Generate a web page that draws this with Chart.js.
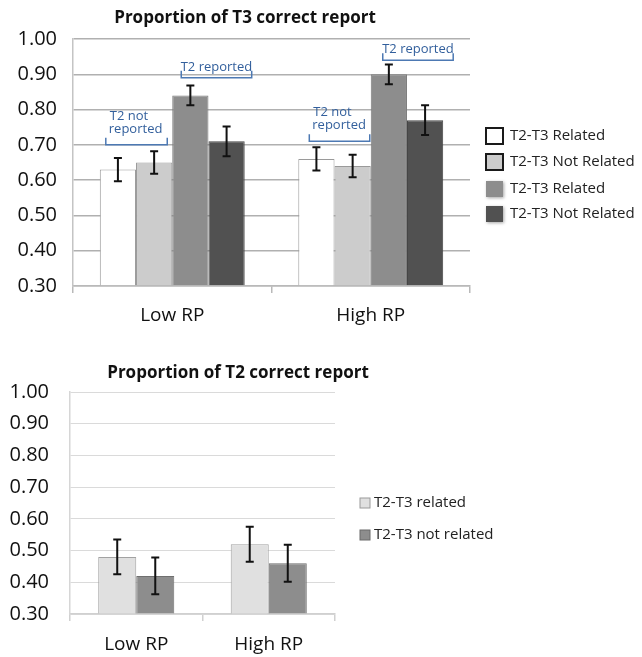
<!DOCTYPE html>
<html>
<head>
<meta charset="utf-8">
<script src="https://cdn.jsdelivr.net/npm/chart.js@4.4.0/dist/chart.umd.min.js"></script>
<style>
  body { margin: 0; background: #fff; }
  #wrap { position: relative; width: 642px; height: 657px; }
  canvas { position: absolute; left: 0; }
  #t3 { top: 0; }
  #t2 { top: 340px; }
</style>
</head>
<body>
<div id="wrap">
  <canvas id="t3" width="642" height="340" style="width:642px;height:340px"></canvas>
  <canvas id="t2" width="642" height="317" style="width:642px;height:317px"></canvas>
</div>
<script>
// data
var categories = ["Low RP", "High RP"];
var yTicks = [0.30, 0.40, 0.50, 0.60, 0.70, 0.80, 0.90, 1.00];

var t3Labels = ["T2-T3 Related", "T2-T3 Not Related", "T2-T3 Related", "T2-T3 Not Related"];
var t3NotRepRelated = [0.63, 0.66];
var t3NotRepRelatedErr = [0.033, 0.033];
var t3NotRepNotRelated = [0.65, 0.64];
var t3NotRepNotRelatedErr = [0.032, 0.032];
var t3RepRelated = [0.84, 0.90];
var t3RepRelatedErr = [0.028, 0.028];
var t3RepNotRelated = [0.71, 0.77];
var t3RepNotRelatedErr = [0.042, 0.042];

var t2Labels = ["T2-T3 related", "T2-T3 not related"];
var t2Related = [0.48, 0.52];
var t2RelatedErr = [0.055, 0.055];
var t2NotRelated = [0.42, 0.46];
var t2NotRelatedErr = [0.058, 0.058];

// bracket notes on the T3 chart: category, first bar, last bar, value of bracket line
var notes = [
  { cat: 0, from: 0, to: 1, y: 0.70, lines: ["T2 not", "reported"], dx0: 6, dx1: -5 },
  { cat: 0, from: 2, to: 3, y: 0.89, lines: ["T2 reported"], dx0: 9, dx1: 7 },
  { cat: 1, from: 0, to: 1, y: 0.71, lines: ["T2 not", "reported"], dx0: 11, dx1: -1 },
  { cat: 1, from: 2, to: 3, y: 0.94, lines: ["T2 reported"], dx0: 12, dx1: 10 }
];

Chart.defaults.font.family = "'Open Sans', 'DejaVu Sans', sans-serif";
Chart.defaults.color = "#111";

var errorBars = {
  id: "errorBars",
  afterDatasetsDraw: function (chart) {
    var ctx = chart.ctx, y = chart.scales.y;
    ctx.save();
    ctx.strokeStyle = "#111";
    ctx.lineWidth = 2;
    chart.data.datasets.forEach(function (ds, i) {
      chart.getDatasetMeta(i).data.forEach(function (bar, j) {
        var top = y.getPixelForValue(ds.data[j] + ds.errors[j]);
        var bot = y.getPixelForValue(ds.data[j] - ds.errors[j]);
        ctx.beginPath();
        ctx.moveTo(bar.x, top); ctx.lineTo(bar.x, bot);
        ctx.moveTo(bar.x - 4, top); ctx.lineTo(bar.x + 4, top);
        ctx.moveTo(bar.x - 4, bot); ctx.lineTo(bar.x + 4, bot);
        ctx.stroke();
      });
    });
    ctx.restore();
  }
};

var heading = {
  id: "heading",
  afterDraw: function (chart, args, opts) {
    var ctx = chart.ctx;
    ctx.save();
    ctx.font = "bold 17px 'Open Sans'";
    ctx.fillStyle = "#111";
    ctx.textAlign = "center";
    ctx.textBaseline = "middle";
    ctx.fillText(opts.text, opts.x, opts.y);
    ctx.restore();
  }
};

var sideLegend = {
  id: "sideLegend",
  afterDraw: function (chart, args, opts) {
    var ctx = chart.ctx;
    ctx.save();
    ctx.font = "15px 'Open Sans'";
    ctx.textBaseline = "middle";
    chart.data.datasets.forEach(function (ds, i) {
      var cy = opts.ys[i];
      var x = opts.x, w = opts.w, h = opts.h;
      var sw = opts.swatches[i];
      ctx.save();
      if (sw.shadow) {
        ctx.shadowColor = "rgba(0,0,0,0.35)";
        ctx.shadowBlur = 3;
        ctx.shadowOffsetX = 1;
        ctx.shadowOffsetY = 1;
      }
      ctx.fillStyle = ds.backgroundColor;
      ctx.fillRect(x, cy - h / 2, w, h);
      ctx.restore();
      if (sw.border) {
        ctx.strokeStyle = sw.border;
        ctx.lineWidth = sw.lw;
        ctx.strokeRect(x, cy - h / 2, w, h);
      }
      ctx.fillStyle = "#222";
      ctx.textAlign = "left";
      ctx.fillText(ds.label, opts.textX, cy);
    });
    ctx.restore();
  }
};

var brackets = {
  id: "brackets",
  afterDraw: function (chart) {
    var ctx = chart.ctx, y = chart.scales.y;
    ctx.save();
    notes.forEach(function (n) {
      var a = chart.getDatasetMeta(n.from).data[n.cat];
      var b = chart.getDatasetMeta(n.to).data[n.cat];
      var x0 = a.x - a.width / 2 + n.dx0;
      var x1 = b.x + b.width / 2 + n.dx1;
      var ly = y.getPixelForValue(n.y);
      ctx.strokeStyle = "#4d79b3";
      ctx.lineWidth = 1.5;
      ctx.beginPath();
      ctx.moveTo(x0, ly - 7);
      ctx.lineTo(x0, ly);
      ctx.lineTo(x1, ly);
      ctx.lineTo(x1, ly - 7);
      ctx.stroke();
      ctx.fillStyle = "#325f9c";
      ctx.font = "13px 'Open Sans'";
      ctx.textBaseline = "middle";
      if (n.lines.length === 1) {
        ctx.textAlign = "center";
        ctx.fillText(n.lines[0], (x0 + x1) / 2, ly - 11);
      } else {
        ctx.textAlign = "left";
        ctx.fillText(n.lines[0], x0 + 4, ly - 29);
        ctx.fillText(n.lines[1], x0 + 3, ly - 16);
      }
    });
    ctx.restore();
  }
};

function yAxis(width, pad, gridColor, gridWidth, borderColor) {
  return {
    min: 0.3,
    max: 1.0,
    afterFit: function (scale) { scale.width = width; },
    afterBuildTicks: function (scale) {
      scale.ticks = yTicks.map(function (v) { return { value: v }; });
    },
    ticks: {
      padding: pad,
      font: { size: 20 },
      color: "#111",
      callback: function (v) { return Number(v).toFixed(2); }
    },
    grid: { color: gridColor, lineWidth: gridWidth, drawTicks: false },
    border: { color: borderColor, width: 1.5 }
  };
}

function xAxis(height, pad, tickColor) {
  return {
    afterFit: function (scale) { scale.height = height; },
    ticks: { padding: pad, font: { size: 19 }, color: "#111" },
    grid: { offset: true, drawOnChartArea: false, tickLength: 7, color: tickColor, lineWidth: 1.5 },
    border: { color: tickColor, width: 1.5 }
  };
}

new Chart(document.getElementById("t3"), {
  type: "bar",
  data: {
    labels: categories,
    datasets: [
      { label: t3Labels[0], data: t3NotRepRelated, errors: t3NotRepRelatedErr, backgroundColor: "#ffffff", borderColor: "#9a9a9a" },
      { label: t3Labels[1], data: t3NotRepNotRelated, errors: t3NotRepNotRelatedErr, backgroundColor: "#cccccc", borderColor: "#9a9a9a" },
      { label: t3Labels[2], data: t3RepRelated, errors: t3RepRelatedErr, backgroundColor: "#8d8d8d", borderColor: "#7c7c7c" },
      { label: t3Labels[3], data: t3RepNotRelated, errors: t3RepNotRelatedErr, backgroundColor: "#515151", borderColor: "#454545" }
    ]
  },
  options: {
    responsive: false,
    animation: false,
    layout: { padding: { top: 39, right: 172, left: 0, bottom: 0 } },
    datasets: { bar: { base: 0.3, borderWidth: 1, categoryPercentage: 0.73, barPercentage: 1 } },
    scales: {
      x: xAxis(54, 11, "#b9b9b9"),
      y: yAxis(73, 16, "#b0b0b0", 1.5, "#c4c4c4")
    },
    plugins: {
      legend: { display: false },
      tooltip: { enabled: false },
      heading: { text: "Proportion of T3 correct report", x: 245, y: 18 },
      sideLegend: {
        x: 486, w: 17, h: 16, textX: 510, ys: [136, 162, 189, 214],
        swatches: [
          { border: "#1a1a1a", lw: 2 },
          { border: "#1a1a1a", lw: 2 },
          { shadow: true },
          { shadow: true }
        ]
      }
    }
  },
  plugins: [errorBars, heading, sideLegend, brackets]
});

new Chart(document.getElementById("t2"), {
  type: "bar",
  data: {
    labels: categories,
    datasets: [
      { label: t2Labels[0], data: t2Related, errors: t2RelatedErr, backgroundColor: "#e0e0e0", borderColor: "#a2a2a2" },
      { label: t2Labels[1], data: t2NotRelated, errors: t2NotRelatedErr, backgroundColor: "#8d8d8d", borderColor: "#6f6f6f" }
    ]
  },
  options: {
    responsive: false,
    animation: false,
    layout: { padding: { top: 52, right: 307, left: 0, bottom: 0 } },
    datasets: { bar: { base: 0.3, borderWidth: 1, categoryPercentage: 0.574, barPercentage: 1 } },
    scales: {
      x: xAxis(43, 12, "#d0d0d0"),
      y: yAxis(70, 21, "#dadada", 1, "#d6d6d6")
    },
    plugins: {
      legend: { display: false },
      tooltip: { enabled: false },
      heading: { text: "Proportion of T2 correct report", x: 238, y: 33 },
      sideLegend: {
        x: 360, w: 10, h: 10, textX: 374, ys: [503, 535].map(function (v) { return v - 340; }),
        swatches: [
          { border: "#9a9a9a", lw: 1 },
          { border: "#6a6a6a", lw: 1 }
        ]
      }
    }
  },
  plugins: [errorBars, heading, sideLegend]
});
</script>
</body>
</html>
